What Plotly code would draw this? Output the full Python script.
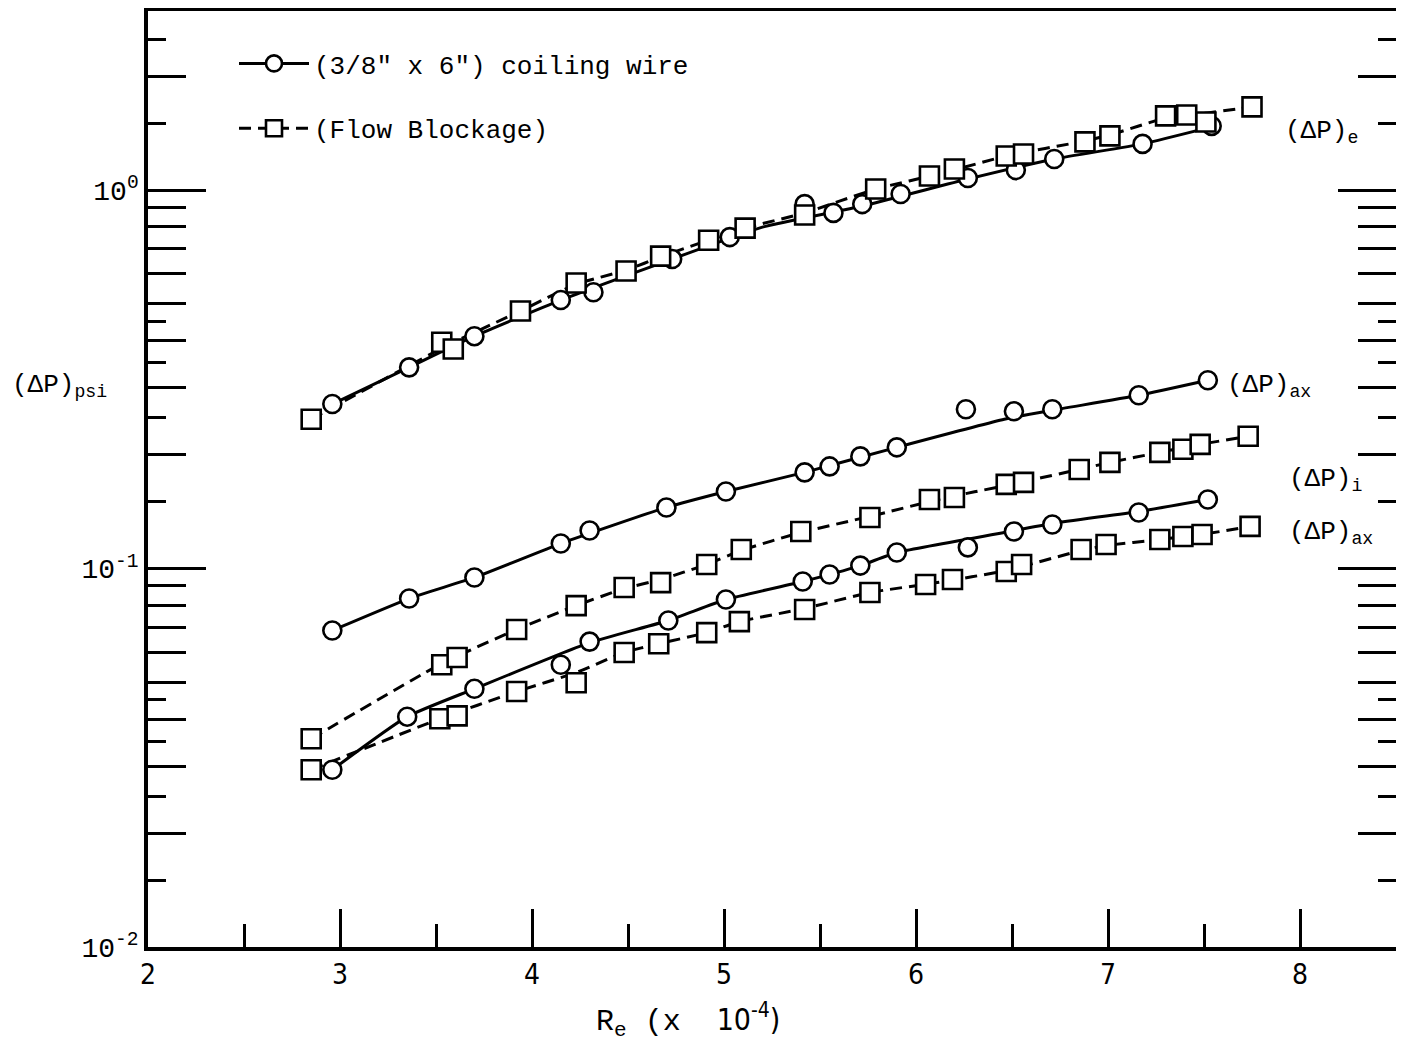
import plotly.graph_objects as go

# ---------------- data ----------------
# (ΔP)e  -- coiling wire (circles, solid)
e_wire_x = [2.96, 3.36, 3.70, 4.15, 4.32, 4.73, 5.03, 5.42, 5.57, 5.72, 5.92, 6.27, 6.52, 6.72, 7.18, 7.54]
e_wire_y = [0.272, 0.340, 0.411, 0.512, 0.537, 0.657, 0.751, 0.918, 0.870, 0.918, 0.976, 1.076, 1.129, 1.208, 1.324, 1.477]
e_wire_fit_x = [2.96, 3.36, 3.70, 4.15, 4.73, 5.20, 5.72, 6.27, 6.72, 7.18, 7.54]
e_wire_fit_y = [0.272, 0.340, 0.411, 0.512, 0.657, 0.798, 0.907, 1.069, 1.208, 1.324, 1.468]

# (ΔP)e  -- flow blockage (squares, dashed)
e_blk_x = [2.85, 3.53, 3.59, 3.94, 4.23, 4.49, 4.67, 4.92, 5.11, 5.42, 5.79, 6.07, 6.20, 6.47, 6.56, 6.88, 7.01, 7.30, 7.41, 7.51, 7.75]
e_blk_y = [0.248, 0.396, 0.380, 0.479, 0.568, 0.611, 0.669, 0.737, 0.793, 0.859, 1.006, 1.089, 1.136, 1.230, 1.245, 1.340, 1.390, 1.570, 1.579, 1.513, 1.658]
e_blk_fit_x = [2.85, 3.56, 3.94, 4.23, 4.49, 4.68, 4.92, 5.11, 5.42, 5.79, 6.14, 6.47, 6.88, 7.01, 7.30, 7.52, 7.75]
e_blk_fit_y = [0.248, 0.389, 0.479, 0.564, 0.614, 0.669, 0.737, 0.793, 0.870, 1.006, 1.109, 1.230, 1.348, 1.398, 1.550, 1.599, 1.658]

# (ΔP)ax -- coiling wire (circles, solid)
ax_wire_x = [2.96, 3.36, 3.70, 4.15, 4.30, 4.70, 5.01, 5.42, 5.55, 5.71, 5.90, 6.26, 6.51, 6.71, 7.16, 7.52]
ax_wire_y = [0.0686, 0.0833, 0.0947, 0.1164, 0.1260, 0.1450, 0.1598, 0.1795, 0.1861, 0.1978, 0.2090, 0.2634, 0.2602, 0.2634, 0.2869, 0.3144]
ax_wire_fit_x = [2.96, 3.36, 3.70, 4.15, 4.70, 5.01, 5.42, 5.90, 6.46, 6.71, 7.16, 7.52]
ax_wire_fit_y = [0.0686, 0.0833, 0.0947, 0.1164, 0.1450, 0.1598, 0.1795, 0.2090, 0.2479, 0.2618, 0.2869, 0.3144]

# (ΔP)i  -- flow blockage (squares, dashed)
i_blk_x = [2.85, 3.53, 3.61, 3.92, 4.23, 4.48, 4.67, 4.91, 5.09, 5.40, 5.76, 6.07, 6.20, 6.47, 6.56, 6.85, 7.01, 7.27, 7.39, 7.48, 7.73]
i_blk_y = [0.0355, 0.0557, 0.0582, 0.0690, 0.0798, 0.0891, 0.0918, 0.1025, 0.1123, 0.1253, 0.1364, 0.1522, 0.1541, 0.1668, 0.1689, 0.1827, 0.1907, 0.2027, 0.2065, 0.2128, 0.2236]
i_blk_fit_x = [2.85, 3.53, 3.92, 4.23, 4.48, 4.67, 4.91, 5.09, 5.40, 5.76, 6.14, 6.47, 6.85, 7.01, 7.27, 7.48, 7.73]
i_blk_fit_y = [0.0355, 0.0561, 0.0690, 0.0798, 0.0885, 0.0935, 0.1025, 0.1116, 0.1245, 0.1373, 0.1532, 0.1658, 0.1827, 0.1907, 0.2027, 0.2128, 0.2236]

# (ΔP)ax -- lower pair, coiling wire (circles, solid)
ax2_wire_x = [2.96, 3.35, 3.70, 4.15, 4.30, 4.71, 5.01, 5.41, 5.55, 5.71, 5.90, 6.27, 6.51, 6.71, 7.16, 7.52]
ax2_wire_y = [0.0294, 0.0406, 0.0481, 0.0557, 0.0641, 0.0729, 0.0828, 0.0924, 0.0964, 0.1018, 0.1102, 0.1137, 0.1253, 0.1307, 0.1406, 0.1522]
ax2_wire_fit_x = [2.96, 3.35, 3.70, 4.30, 4.71, 5.01, 5.41, 5.71, 5.90, 6.46, 6.71, 7.16, 7.52]
ax2_wire_fit_y = [0.0294, 0.0406, 0.0481, 0.0637, 0.0729, 0.0828, 0.0924, 0.1018, 0.1102, 0.1245, 0.1315, 0.1415, 0.1522]

# (ΔP)ax -- lower pair, flow blockage (squares, dashed)
ax2_blk_x = [2.85, 3.52, 3.61, 3.92, 4.23, 4.48, 4.66, 4.91, 5.08, 5.42, 5.76, 6.05, 6.19, 6.47, 6.55, 6.86, 6.99, 7.27, 7.39, 7.49, 7.74]
ax2_blk_y = [0.0294, 0.0401, 0.0408, 0.0473, 0.0499, 0.0600, 0.0633, 0.0677, 0.0724, 0.0779, 0.0864, 0.0907, 0.0935, 0.0982, 0.1025, 0.1123, 0.1157, 0.1193, 0.1215, 0.1230, 0.1292]
ax2_blk_fit_x = [2.85, 3.52, 3.92, 4.23, 4.48, 4.66, 4.91, 5.08, 5.42, 5.76, 6.11, 6.47, 6.86, 6.99, 7.27, 7.49, 7.74]
ax2_blk_fit_y = [0.0294, 0.0401, 0.0473, 0.0531, 0.0600, 0.0633, 0.0677, 0.0724, 0.0784, 0.0864, 0.0918, 0.0988, 0.1116, 0.1150, 0.1193, 0.1230, 0.1292]

legend_names = ['(3/8" x 6") coiling wire', '(Flow Blockage)']

x_major_ticks = [2, 3, 4, 5, 6, 7, 8]
x_half_ticks = [2.5, 3.5, 4.5, 5.5, 6.5, 7.5]
y_decades = [0.01, 0.1, 1]
y_decade_labels = ['10<sup>-2</sup>', '10<sup>-1</sup>', '10<sup>0</sup>']
y_long_minor = [0.02, 0.03, 0.04, 0.05, 0.06, 0.07, 0.08, 0.09,
                0.2, 0.3, 0.4, 0.5, 0.6, 0.7, 0.8, 0.9, 2]
y_short_minor = [0.015, 0.025, 0.035, 0.045, 0.15, 0.25, 0.35, 0.45, 1.5, 2.5]

# ---------------- styling ----------------
MONO = "Liberation Mono, Courier New, monospace"
NARROW = "Liberation Sans Narrow, DejaVu Sans Condensed, Arial Narrow, sans-serif"
DASH = "12px,7px"

fig = go.Figure()

series = [
    (e_wire_fit_x, e_wire_fit_y, e_wire_x, e_wire_y, 'circle', 'solid'),
    (e_blk_fit_x, e_blk_fit_y, e_blk_x, e_blk_y, 'square', DASH),
    (ax_wire_fit_x, ax_wire_fit_y, ax_wire_x, ax_wire_y, 'circle', 'solid'),
    (i_blk_fit_x, i_blk_fit_y, i_blk_x, i_blk_y, 'square', DASH),
    (ax2_wire_fit_x, ax2_wire_fit_y, ax2_wire_x, ax2_wire_y, 'circle', 'solid'),
    (ax2_blk_fit_x, ax2_blk_fit_y, ax2_blk_x, ax2_blk_y, 'square', DASH),
]

for fx, fy, mx, my, sym, dash in series:
    fig.add_trace(go.Scatter(
        x=fx, y=fy, mode='lines', showlegend=False, hoverinfo='skip',
        line=dict(color='black', width=3, dash=dash, shape='spline', smoothing=0.5)))

for fx, fy, mx, my, sym, dash in series:
    is_circle = sym == 'circle'
    fig.add_trace(go.Scatter(
        x=mx, y=my, mode='markers', yaxis='y2', showlegend=False,
        marker=dict(symbol=sym, size=18 if is_circle else 19, color='white',
                    line=dict(color='black', width=2.6))))

# legend-only entries
fig.add_trace(go.Scatter(
    x=[None], y=[None], yaxis='y2', mode='lines+markers', name=legend_names[0],
    legendgroup='a',
    marker=dict(symbol='circle', size=16, color='white', line=dict(color='black', width=2.6)),
    line=dict(color='black', width=3)))
fig.add_trace(go.Scatter(
    x=[None], y=[None], yaxis='y2', mode='lines+markers', name=legend_names[1],
    legendgroup='b',
    marker=dict(symbol='square', size=16, color='white', line=dict(color='black', width=2.6)),
    line=dict(color='black', width=3, dash=DASH)))

# the page body adds an 8 px offset; figure sized so the plot frame lands
# at page x 148..1396, y 8..947
W, H = 1392, 1049
L, R, T, B = 140, 4, 3, 110
OFF = 8
plot_left, plot_top = OFF + L, OFF + T
pw, ph = W - L - R, H - T - B


def px(xp):
    return (xp - plot_left) / pw


def py(yp):
    return 1 - (yp - plot_top) / ph


NB = '\u00a0'
annots = [
    dict(text='(ΔP)<sub>e</sub>', x=px(1283), y=py(132)),
    dict(text='(ΔP)<sub>ax</sub>', x=px(1225), y=py(386)),
    dict(text='(ΔP)<sub>i</sub>', x=px(1287), y=py(480)),
    dict(text='(ΔP)<sub>ax</sub>', x=px(1287), y=py(533)),
    dict(text='(ΔP)<sub>psi</sub>', x=px(10), y=py(386)),
]
annotations = [dict(a, xref='paper', yref='paper', xanchor='left', yanchor='middle',
                    showarrow=False, font=dict(family=MONO, size=26, color='black'))
               for a in annots]
annotations.append(dict(
    text='R<sub>e</sub>' + NB + '(x' + NB + NB + '<span style="font-family:' + NARROW + '">10<sup>-4</sup>)</span>',
    x=px(688), y=py(1020), xref='paper', yref='paper', xanchor='center', yanchor='middle',
    showarrow=False, font=dict(family=MONO, size=30, color='black')))

fig.update_layout(
    width=W, height=H,
    margin=dict(l=L, r=R, t=T, b=B, autoexpand=False),
    paper_bgcolor='white', plot_bgcolor='white',
    showlegend=True,
    legend=dict(x=px(234), y=py(40), xanchor='left', yanchor='top',
                font=dict(family=MONO, size=26, color='black'),
                bgcolor='rgba(0,0,0,0)', itemwidth=70, tracegroupgap=28,
                traceorder='grouped'),
    annotations=annotations,
    xaxis=dict(
        range=[2, 8.5], showgrid=False, zeroline=False, automargin=False,
        showline=True, linewidth=3.5, linecolor='black', mirror=True,
        tickmode='array', tickvals=x_major_ticks,
        ticks='inside', ticklen=38, tickwidth=2.5, tickcolor='black',
        tickfont=dict(family=NARROW, size=28, color='black'),
        minor=dict(tickmode='array', tickvals=x_half_ticks, ticks='inside',
                   ticklen=23, tickwidth=2.5, tickcolor='black', showgrid=False),
    ),
    yaxis=dict(
        type='log', range=[-2, 0.473], showgrid=False, zeroline=False, automargin=False,
        showline=True, linewidth=3.5, linecolor='black', mirror='ticks',
        tickmode='array', tickvals=y_decades, ticktext=y_decade_labels,
        ticks='inside', ticklen=58, tickwidth=2.5, tickcolor='black',
        tickfont=dict(family=MONO, size=28, color='black'),
        minor=dict(tickmode='array', tickvals=y_long_minor, ticks='inside',
                   ticklen=38, tickwidth=2.5, tickcolor='black', showgrid=False),
    ),
    yaxis2=dict(
        type='log', overlaying='y', matches='y', side='left', anchor='x',
        automargin=False,
        showgrid=False, zeroline=False, showticklabels=False,
        showline=True, linewidth=3.5, linecolor='black', mirror='ticks',
        tickmode='array', tickvals=y_short_minor,
        ticks='inside', ticklen=18, tickwidth=2.5, tickcolor='black',
    ),
)

fig.write_html("out.html")
